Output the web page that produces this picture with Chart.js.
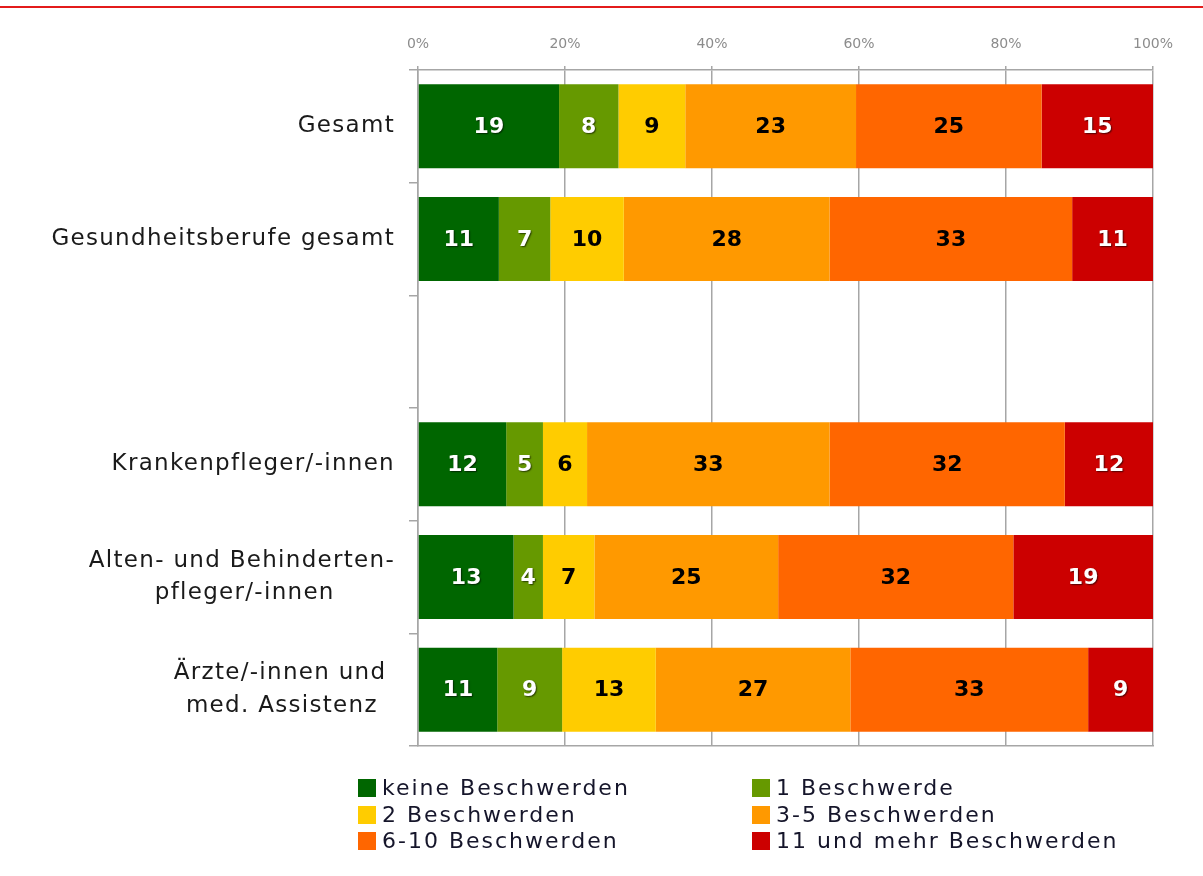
<!DOCTYPE html>
<html>
<head>
<meta charset="utf-8">
<script src="https://cdn.jsdelivr.net/npm/chart.js@4.4.1/dist/chart.umd.min.js"></script>
<style>
  body { margin: 0; background: #fff; }
  #wrap { position: relative; width: 1203px; height: 876px; overflow: hidden; }
  #topLine { position: absolute; left: 0; top: 6px; width: 1203px; height: 2px; background: #e31b1b; }
  #legend {
    position: absolute; left: 358px; top: 775px;
    display: grid; grid-template-columns: 394px 394px;
    font-family: "DejaVu Sans"; font-size: 22px; letter-spacing: 2px;
    color: #15152a; line-height: 26.5px;
  }
  #legend .item { display: flex; align-items: center; white-space: nowrap; }
  #legend .box { width: 18px; height: 18px; margin-right: 6px; flex: none; }
</style>
</head>
<body>
<div id="wrap">
  <div id="topLine"></div>
  <canvas id="chart" width="1203" height="876"></canvas>
  <div id="legend"></div>
</div>
<script>
// Categories (multi-line labels as arrays, trailing spaces keep the lines centred)
const categories = [
    "Gesamt",
    "Gesundheitsberufe gesamt",
    "",
    "Krankenpfleger/-innen",
    ["Alten- und Behinderten-", "pfleger/-innen       "],
    ["Ärzte/-innen und ", "med. Assistenz  "]
];

const seriesNames = [
    "keine Beschwerden",
    "1 Beschwerde",
    "2 Beschwerden",
    "3-5 Beschwerden",
    "6-10 Beschwerden",
    "11 und mehr Beschwerden"
];

// Values in percent, as printed in the bars
const keineBeschwerden = [19, 11, null, 12, 13, 11];
const eineBeschwerde = [8, 7, null, 5, 4, 9];
const zweiBeschwerden = [9, 10, null, 6, 7, 13];
const dreiBisFuenf = [23, 28, null, 33, 25, 27];
const sechsBisZehn = [25, 33, null, 32, 32, 33];
const elfUndMehr = [15, 11, null, 12, 19, 9];

const xTicks = [0, 20, 40, 60, 80, 100];

const colors = ["#006600", "#669900", "#ffcc00", "#ff9900", "#ff6600", "#cc0000"];
const labelColors = ["#fff", "#fff", "#000", "#000", "#000", "#fff"];

const FONT = "DejaVu Sans";
const GRID = "#a6a6a6";

const series = [keineBeschwerden, eineBeschwerde, zweiBeschwerden, dreiBisFuenf, sechsBisZehn, elfUndMehr];

// 100% stacked: share of each row total
const totals = categories.map((c, j) => series.reduce((s, arr) => s + (arr[j] || 0), 0));

const datasets = series.map((arr, i) => ({
    label: seriesNames[i],
    data: arr.map((v, j) => v == null ? null : v / totals[j] * 100),
    counts: arr,
    backgroundColor: colors[i],
    borderWidth: 0,
    barPercentage: 0.745,
    categoryPercentage: 1
}));

// Value labels inside the bars
const barLabels = {
    id: "barLabels",
    afterDatasetsDraw(chart) {
        const ctx = chart.ctx;
        ctx.save();
        ctx.font = "bold 22px '" + FONT + "'";
        ctx.textAlign = "center";
        ctx.textBaseline = "middle";
        chart.data.datasets.forEach((ds, i) => {
            const meta = chart.getDatasetMeta(i);
            meta.data.forEach((bar, j) => {
                const v = ds.counts[j];
                if (v == null) return;
                const p = bar.getCenterPoint();
                if (labelColors[i] === "#fff") {
                    ctx.shadowColor = "rgba(0,0,0,0.6)";
                    ctx.shadowBlur = 1.5;
                    ctx.shadowOffsetX = 1;
                    ctx.shadowOffsetY = 1;
                } else {
                    ctx.shadowColor = "transparent";
                }
                ctx.fillStyle = labelColors[i];
                ctx.fillText(String(v), p.x, p.y + 1);
            });
        });
        ctx.restore();
        // category labels (tick layer z:1) are drawn right after this, a bit spaced out
        ctx.letterSpacing = "1.3px";
    },
    afterDraw(chart) {
        chart.ctx.letterSpacing = "0px";
    }
};

new Chart(document.getElementById("chart"), {
    type: "bar",
    data: { labels: categories, datasets: datasets },
    options: {
        indexAxis: "y",
        responsive: false,
        animation: false,
        devicePixelRatio: 1,
        layout: { padding: { top: 20, left: 0, right: 50, bottom: 130 } },
        plugins: {
            legend: { display: false },
            tooltip: { enabled: false }
        },
        scales: {
            x: {
                position: "top",
                stacked: true,
                min: 0,
                max: 100,
                afterBuildTicks: s => { s.ticks = xTicks.map(v => ({ value: v })); },
                ticks: {
                    callback: v => v + "%",
                    color: "#8c8c8c",
                    font: { family: FONT, size: 14 },
                    padding: 13,
                    maxRotation: 0
                },
                grid: { color: GRID, lineWidth: 1.5, tickLength: 4 },
                border: { color: GRID, width: 1.5 },
                afterFit: s => { s.height = 50; }
            },
            x2: {
                position: "bottom",
                min: 0,
                max: 100,
                ticks: { display: false },
                grid: { drawOnChartArea: false, drawTicks: false },
                border: { color: GRID, width: 1.5 },
                afterFit: s => { s.height = 0; }
            },
            y: {
                stacked: true,
                ticks: {
                    color: "#1a1a1a",
                    font: { family: FONT, size: 23, lineHeight: 1.43 },
                    padding: 14,
                    z: 1
                },
                grid: { offset: true, drawOnChartArea: false, tickLength: 9, color: GRID, lineWidth: 1.5 },
                border: { color: GRID, width: 1.5 },
                afterFit: s => { s.width = 418; }
            }
        }
    },
    plugins: [barLabels]
});

// Legend in two columns, built from the series
const legend = document.getElementById("legend");
seriesNames.forEach((name, i) => {
    const item = document.createElement("div");
    item.className = "item";
    const box = document.createElement("span");
    box.className = "box";
    box.style.background = colors[i];
    item.appendChild(box);
    item.appendChild(document.createTextNode(name));
    legend.appendChild(item);
});
</script>
</body>
</html>
